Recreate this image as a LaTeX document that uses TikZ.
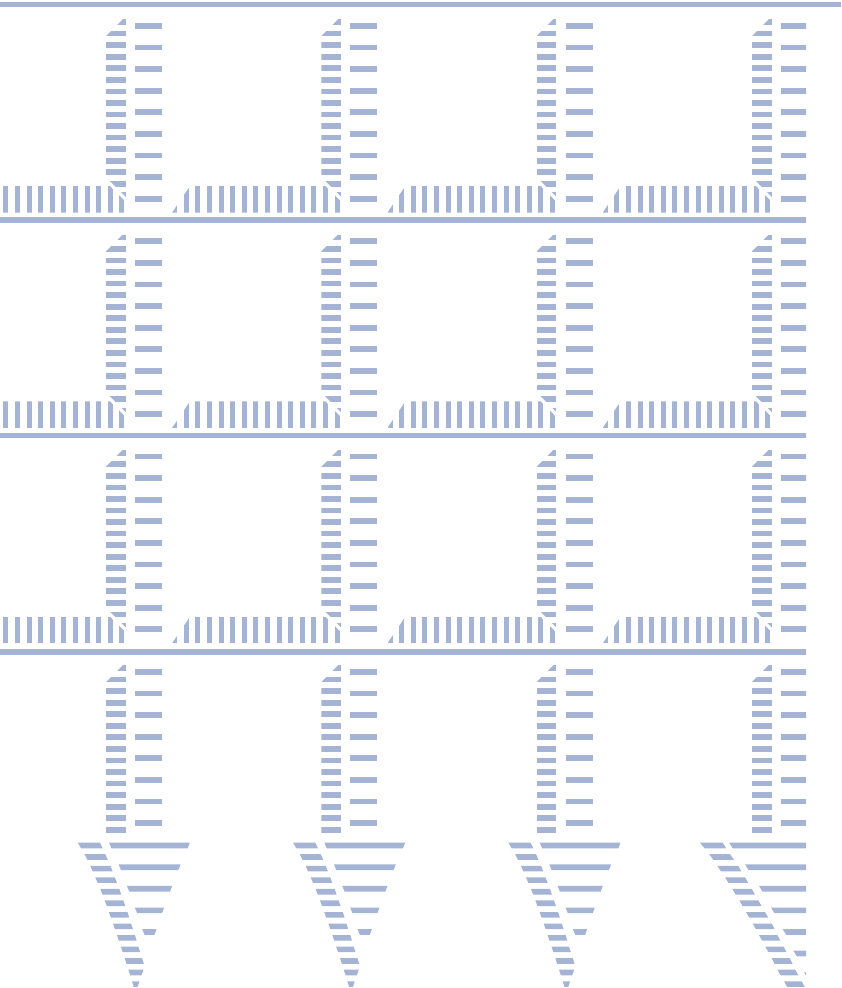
\documentclass[tikz,border=0pt]{standalone}
\definecolor{hatch}{RGB}{165,180,212}
\tikzset{hatchfill/.style={fill=hatch,draw=none}}
\begin{document}
\begin{tikzpicture}[x=1pt,y=-1pt]
\useasboundingbox (0,0) rectangle (841,988);
% horizontal rules
\fill[hatchfill] (0,2) rectangle (841,7.3);
\foreach \ly in {217,432.5,649} \fill[hatchfill] (0,\ly) rectangle (806,\ly+5.7);
\begin{scope}
\clip (0,0) rectangle (806,988);
% tiles
\foreach \r in {0,1,2,3} {
  \foreach \c in {0,1,2,3} {
    \begin{scope}[shift={(\c*215.33,\r*215.33)}]
      \ifnum\r<3
        % dense vertical band with miter
        \begin{scope}
          \clip (106,36) -- (126,16) -- (126,197) -- (106,177) -- cycle;
          \foreach \k in {0,...,15} \fill[hatchfill] (106,19.2+11.55*\k) rectangle (126,24.9+11.55*\k);
        \end{scope}
        % sparse band
        \foreach \k in {0,...,8} \fill[hatchfill] (135,23+21.6*\k) rectangle (162,28.8+21.6*\k);
        % horizontal bar
        \begin{scope}
          \clip (-43.3,212.7) -- (-25.3,186) -- (110,186) -- (126,202) -- (126,212.7) -- cycle;
          \foreach \k in {-4,...,10} \fill[hatchfill] (3.3+11.6*\k,186) rectangle (8.3+11.6*\k,212.7);
        \end{scope}
      \else
        \begin{scope}
          \clip (106,36) -- (126,16) -- (126,200) -- (106,200) -- cycle;
          \foreach \k in {0,...,14} \fill[hatchfill] (106,19.2+11.55*\k) rectangle (126,24.9+11.55*\k);
        \end{scope}
        \foreach \k in {0,...,7} \fill[hatchfill] (135,23+21.6*\k) rectangle (162,28.8+21.6*\k);
      \fi
    \end{scope}
  }
}
% arrowheads, columns 1-3
\foreach \c in {0,1,2} {
  \begin{scope}[shift={(\c*215.33,0)}]
    \foreach \y/\a/\b/\da/\db in {
      842.7/77.8/100.0/3.2/2.6, 854.2/84.5/105.3/2.8/2.5, 865.8/90.3/110.5/2.4/2.1,
      877.3/95.3/114.8/2.4/2.2, 888.9/100.3/119.3/2.1/1.9, 900.4/104.7/123.3/2.0/2.0,
      912.0/108.9/127.5/2.0/1.7, 923.5/113.0/131.0/1.9/1.9, 935.1/117.0/135.0/1.8/1.6,
      946.6/120.8/138.3/1.9/1.9, 958.2/124.7/142.2/1.8/1.6, 969.7/128.4/143.5/1.8/-2.0,
      981.3/132.0/139.4/1.8/-1.8}
      \fill[hatchfill] (\a,\y) -- (\b,\y) -- (\b+\db,\y+5.6) -- (\a+\da,\y+5.6) -- cycle;
    \foreach \y/\a/\b in {842.7/109.1/189.8, 864.3/118.6/180.5, 885.9/126.9/172.2,
      907.5/134.8/164.2, 929.1/142.2/156.6}
      \fill[hatchfill] (\a,\y) -- (\b,\y) -- (\b-2.2,\y+5.7) -- (\a+2.4,\y+5.7) -- cycle;
  \end{scope}
}
% arrowhead, column 4
\begin{scope}[shift={(646,0)}]
  \foreach \y/\a/\b/\da/\db in {
    842.7/54.0/76.7/4.5/3.5, 854.2/63.3/84.0/3.9/4.0, 865.8/71.3/92.3/3.7/3.2,
    877.3/79.0/99.0/3.5/3.2, 888.9/86.3/105.7/3.4/3.2, 900.4/93.3/112.3/3.2/3.2,
    912.0/100.0/119.0/3.2/3.2, 923.5/106.7/125.7/3.1/2.9, 935.1/113.0/131.5/3.1/2.9,
    946.6/119.3/137.5/3.1/3.1, 958.2/125.7/143.7/2.9/2.9, 969.7/131.5/149.3/3.1/3.1,
    981.3/138.0/155.7/3.1/3.1}
    \fill[hatchfill] (\a,\y) -- (\b,\y) -- (\b+\db,\y+5.6) -- (\a+\da,\y+5.6) -- cycle;
  \foreach \y/\a in {842.7/83.3, 864.3/99.0, 885.9/113.0, 907.5/125.0,
    929.1/136.7, 950.7/147.3, 972.3/158.0}
    \fill[hatchfill] (\a,\y) -- (170,\y) -- (170,\y+5.7) -- (\a+3.5,\y+5.7) -- cycle;
\end{scope}
\end{scope}
\end{tikzpicture}
\end{document}
